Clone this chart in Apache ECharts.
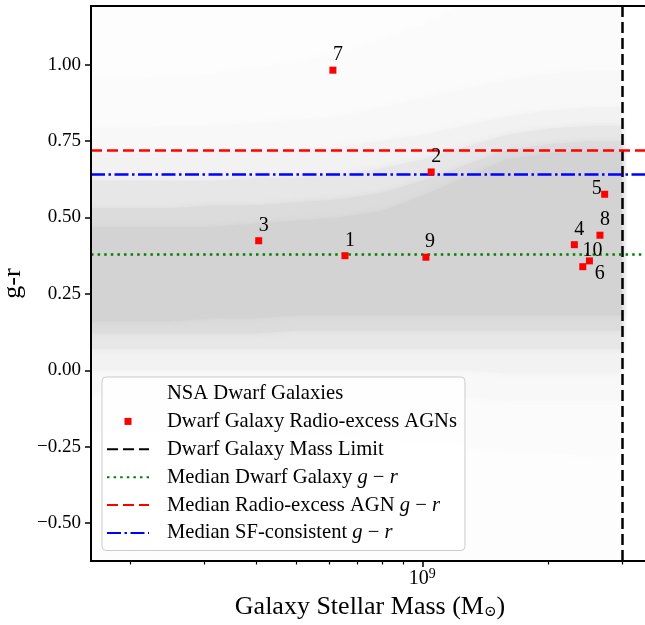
<!DOCTYPE html>
<html>
<head>
<meta charset="utf-8">
<script src="https://cdn.jsdelivr.net/npm/echarts@6/dist/echarts.min.js"></script>
<style>
  html, body { margin: 0; padding: 0; background: #fff; }
  #chart { width: 645px; height: 625px; }
</style>
</head>
<body>
<div id="chart"></div>
<script>
// g-r colour against stellar mass for NSA dwarf galaxies and the radio-excess AGN hosts

// Radio-excess AGN hosts
const agnNames = ['1', '2', '3', '4', '5', '6', '7', '8', '9', '10'];
const agnMass = [6.53e8, 1.05e9, 4.06e8, 2.31e9, 2.73e9, 2.42e9, 6.11e8, 2.66e9, 1.02e9, 2.51e9];
const agnGR = [0.375, 0.649, 0.424, 0.411, 0.576, 0.339, 0.982, 0.442, 0.370, 0.358];

// Reference lines
const massLimit = 3e9;
const medianDwarfGR = 0.376;
const medianAgnGR = 0.725;
const medianSfGR = 0.636;

// NSA dwarf galaxy cloud, summarised as nested density contours:
// for each covering fraction, the upper and lower g-r edge at each log-mass node
const cloudLogMass = [8.2, 8.3, 8.4, 8.5, 8.6, 8.7, 8.8, 8.9, 9.0, 9.1, 9.2, 9.3, 9.4, 9.477];
const cloudCoverage = [0.04, 0.08, 0.15, 0.3, 0.55, 0.8, 1.0];
const cloudTop = [
  [1.30, 1.30, 1.30, 1.30, 1.30, 1.30, 1.30, 1.30, 1.30, 1.30, 1.30, 1.30, 1.30, 1.30],
  [0.95, 0.95, 0.96, 0.97, 0.99, 1.01, 1.04, 1.08, 1.13, 1.20, 1.30, 1.30, 1.30, 1.30],
  [0.79, 0.79, 0.80, 0.80, 0.81, 0.82, 0.83, 0.86, 0.89, 0.92, 0.95, 0.97, 0.98, 0.98],
  [0.71, 0.71, 0.71, 0.72, 0.72, 0.72, 0.73, 0.75, 0.77, 0.80, 0.83, 0.85, 0.86, 0.86],
  [0.62, 0.62, 0.62, 0.62, 0.63, 0.63, 0.64, 0.66, 0.69, 0.73, 0.77, 0.79, 0.80, 0.80],
  [0.53, 0.53, 0.53, 0.54, 0.54, 0.55, 0.56, 0.58, 0.62, 0.67, 0.72, 0.74, 0.75, 0.75],
  [0.47, 0.47, 0.47, 0.47, 0.48, 0.49, 0.50, 0.52, 0.57, 0.63, 0.69, 0.71, 0.72, 0.72]
];
const cloudBottom = [
  [-0.70, -0.70, -0.70, -0.70, -0.70, -0.70, -0.70, -0.70, -0.70, -0.70, -0.70, -0.70, -0.70, -0.70],
  [-0.20, -0.20, -0.20, -0.20, -0.20, -0.21, -0.22, -0.23, -0.24, -0.25, -0.26, -0.27, -0.28, -0.28],
  [-0.07, -0.07, -0.07, -0.07, -0.07, -0.07, -0.08, -0.08, -0.09, -0.09, -0.10, -0.10, -0.10, -0.10],
  [0.00, 0.00, 0.00, 0.00, 0.00, 0.00, 0.00, 0.00, 0.00, 0.00, -0.01, -0.01, -0.01, -0.01],
  [0.07, 0.07, 0.07, 0.07, 0.07, 0.07, 0.07, 0.07, 0.07, 0.07, 0.07, 0.07, 0.07, 0.07],
  [0.12, 0.12, 0.12, 0.12, 0.12, 0.13, 0.13, 0.13, 0.13, 0.13, 0.13, 0.13, 0.13, 0.13],
  [0.16, 0.16, 0.16, 0.17, 0.17, 0.18, 0.18, 0.18, 0.18, 0.18, 0.18, 0.18, 0.18, 0.18]
];

// Tick positions
const yTicks = [-0.5, -0.25, 0, 0.25, 0.5, 0.75, 1.0];
const xMajorTicks = [1e9];
const xMinorTicks = [2e8, 3e8, 4e8, 5e8, 6e8, 7e8, 8e8, 9e8, 2e9, 3e9];

// ---------------------------------------------------------------------------
const FONT = '"Liberation Serif", "DejaVu Serif", serif';
const X_MIN = 1.612e8, X_MAX = 3.485e9;
const Y_MIN = -0.624, Y_MAX = 1.192;

// label placement around each AGN marker (label centre relative to marker centre)
const labelOffsets = {
  '1': [5, -15], '2': [5, -15], '3': [5, -15], '4': [5, -15], '5': [-8, -6],
  '6': [17, 7], '7': [5, -15], '8': [5, -15], '9': [4, -15], '10': [3, -10]
};

const grayFor = f => {
  const g = Math.round(255 - (255 - 211) * f);
  return 'rgb(' + g + ',' + g + ',' + g + ')';
};

function refLine(name, color, dash, markData) {
  const ls = { color: color, width: 2.5, type: dash, cap: 'butt' };
  return {
    name: name, type: 'line', data: [], symbol: 'none', z: 3, silent: true,
    lineStyle: ls,
    itemStyle: { color: 'rgba(0,0,0,0)' },
    markLine: {
      silent: true, symbol: ['none', 'none'], animation: false,
      label: { show: false }, emphasis: { disabled: true },
      lineStyle: ls, data: markData
    }
  };
}

const chart = echarts.init(document.getElementById('chart'), null, { renderer: 'canvas' });

chart.setOption({
  animation: false,
  backgroundColor: '#ffffff',
  grid: {
    left: 91, right: -4, top: 6, bottom: 64, z: 10,
    containLabel: false, outerBoundsMode: 'none',
    show: true, borderColor: '#000', borderWidth: 2, backgroundColor: 'transparent'
  },
  xAxis: [
    {
      type: 'log', logBase: 10, min: X_MIN, max: X_MAX, position: 'bottom', z: 10,
      axisLine: { show: false, onZero: false }, splitLine: { show: false },
      axisTick: { show: true, inside: false, length: 6, lineStyle: { color: '#000', width: 1.5 }, customValues: xMajorTicks },
      axisLabel: {
        customValues: xMajorTicks, margin: 6, color: '#000', fontFamily: FONT,
        formatter: v => '{b|10}{s|' + Math.round(Math.log10(v)) + '}',
        rich: {
          b: { fontFamily: FONT, fontSize: 20, color: '#000', lineHeight: 22, verticalAlign: 'bottom' },
          s: { fontFamily: FONT, fontSize: 14, color: '#000', lineHeight: 14, verticalAlign: 'top' }
        }
      },
      name: 'Galaxy Stellar Mass (M{sub|\u2299})', nameLocation: 'middle', nameGap: 26,
      nameTextStyle: {
        fontFamily: FONT, fontSize: 26, color: '#000', lineHeight: 26,
        rich: { sub: { fontFamily: '"DejaVu Serif", serif', fontSize: 15, color: '#000', lineHeight: 14, verticalAlign: 'bottom' } }
      }
    },
    {
      type: 'log', logBase: 10, min: X_MIN, max: X_MAX, position: 'bottom', z: 10,
      axisLine: { show: false, onZero: false }, splitLine: { show: false },
      axisTick: { show: true, inside: false, length: 3.5, lineStyle: { color: '#000', width: 1.2 }, customValues: xMinorTicks },
      axisLabel: { show: false }
    }
  ],
  yAxis: {
    type: 'value', min: Y_MIN, max: Y_MAX, z: 10,
    axisLine: { show: false, onZero: false }, splitLine: { show: false },
    axisTick: { show: true, inside: false, length: 6, lineStyle: { color: '#000', width: 1.5 }, customValues: yTicks },
    axisLabel: {
      customValues: yTicks, margin: 10, color: '#000', fontFamily: FONT, fontSize: 19,
      formatter: v => v.toFixed(2).replace('-', '\u2212')
    },
    name: 'g-r', nameLocation: 'middle', nameRotate: 90, nameGap: 57,
    nameTextStyle: { fontFamily: FONT, fontSize: 26, color: '#000' }
  },
  legend: {
    orient: 'vertical', left: 102, top: 377,
    itemWidth: 42, itemHeight: 14, itemGap: 6.9,
    padding: [6, 8, 7, 4],
    backgroundColor: 'rgba(255,255,255,0.8)', borderColor: '#cccccc', borderWidth: 1, borderRadius: 4,
    selectedMode: false, z: 20,
    textStyle: {
      fontFamily: FONT, fontSize: 20.6, color: '#000', padding: [0, 0, 0, 13],
      rich: { i: { fontFamily: FONT, fontSize: 20.6, fontStyle: 'italic', color: '#000' } }
    },
    formatter: name => name.replace('g \u2212 r', '{i|g} \u2212 {i|r}'),
    data: [
      { name: 'NSA Dwarf Galaxies', icon: 'none' },
      { name: 'Dwarf Galaxy Radio-excess AGNs', icon: 'path://M0,0M42,14M17.5,3.5h7v7h-7z' },
      'Dwarf Galaxy Mass Limit',
      'Median Dwarf Galaxy g \u2212 r',
      'Median Radio-excess AGN g \u2212 r',
      'Median SF-consistent g \u2212 r'
    ]
  },
  series: [
    {
      name: 'NSA Dwarf Galaxies', type: 'custom', coordinateSystem: 'cartesian2d',
      clip: true, z: 1, silent: true,
      itemStyle: { color: '#d3d3d3' },
      data: cloudCoverage.map((f, i) => [i]),
      renderItem: (params, api) => {
        const k = params.dataIndex;
        const pts = [];
        for (let j = 0; j < cloudLogMass.length; j++) {
          pts.push(api.coord([Math.pow(10, cloudLogMass[j]), cloudTop[k][j]]));
        }
        for (let j = cloudLogMass.length - 1; j >= 0; j--) {
          pts.push(api.coord([Math.pow(10, cloudLogMass[j]), cloudBottom[k][j]]));
        }
        const c = grayFor(cloudCoverage[k]);
        return {
          type: 'polygon', shape: { points: pts },
          style: { fill: c, shadowBlur: 6, shadowColor: c }
        };
      }
    },
    refLine('Dwarf Galaxy Mass Limit', '#000000', [11, 5], [{ xAxis: massLimit }]),
    refLine('Median Dwarf Galaxy g \u2212 r', '#008000', [2.5, 4.1], [{ yAxis: medianDwarfGR }]),
    refLine('Median Radio-excess AGN g \u2212 r', '#ff0000', [11, 5], [{ yAxis: medianAgnGR }]),
    refLine('Median SF-consistent g \u2212 r', '#0000ff', [14, 3.5, 2.5, 3.5], [{ yAxis: medianSfGR }]),
    {
      name: 'Dwarf Galaxy Radio-excess AGNs', type: 'scatter', z: 5, silent: true,
      symbol: 'rect', symbolSize: 7,
      itemStyle: { color: '#ff0000', opacity: 1 },
      label: {
        show: true, position: 'inside', formatter: '{b}',
        fontFamily: FONT, fontSize: 20, color: '#000'
      },
      data: agnMass.map((m, i) => ({
        name: agnNames[i],
        value: [m, agnGR[i]],
        label: { offset: labelOffsets[agnNames[i]] }
      }))
    }
  ]
});
</script>
</body>
</html>
